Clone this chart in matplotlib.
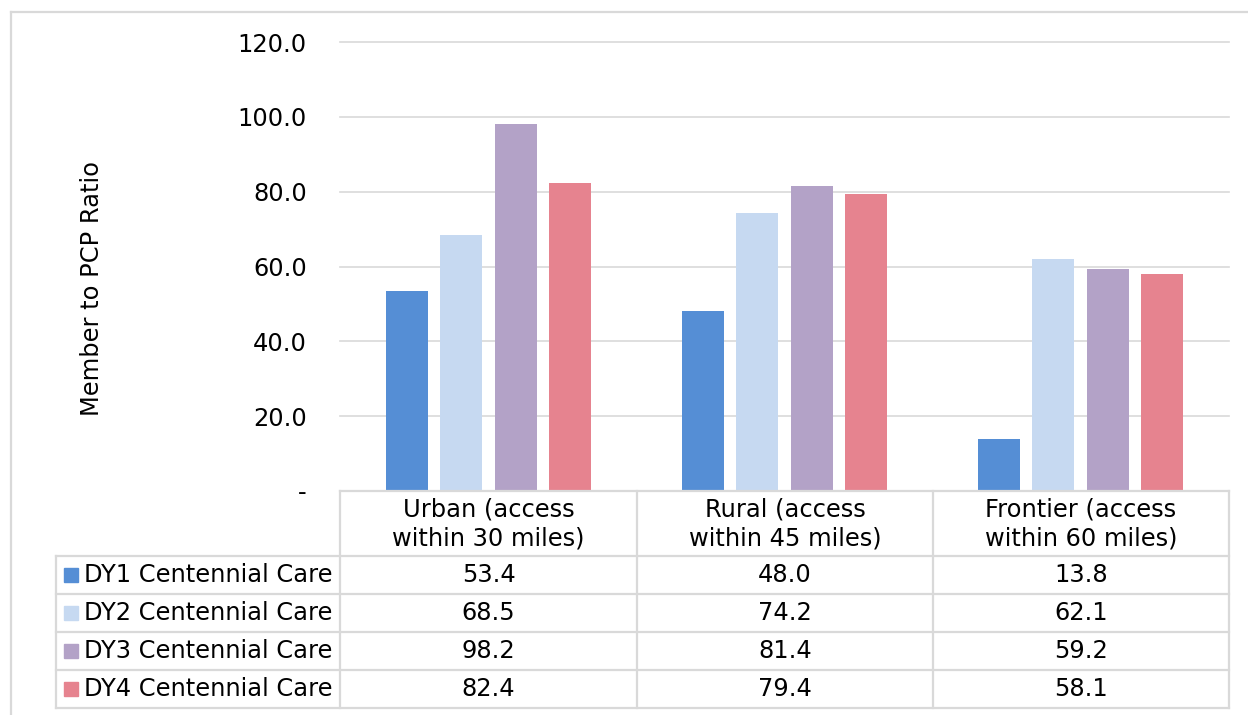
import matplotlib
matplotlib.use("Agg")
import matplotlib.pyplot as plt
from matplotlib.lines import Line2D
from matplotlib.patches import Rectangle

plt.rcParams['font.family'] = ['DejaVu Sans']

categories = ["Urban (access\nwithin 30 miles)",
              "Rural (access\nwithin 45 miles)",
              "Frontier (access\nwithin 60 miles)"]
series_names = ["DY1 Centennial Care", "DY2 Centennial Care",
                "DY3 Centennial Care", "DY4 Centennial Care"]
dy1 = [53.4, 48.0, 13.8]
dy2 = [68.5, 74.2, 62.1]
dy3 = [98.2, 81.4, 59.2]
dy4 = [82.4, 79.4, 58.1]
series_values = [dy1, dy2, dy3, dy4]
yticks = [0, 20, 40, 60, 80, 100, 120]
y_label = "Member to PCP Ratio"

colors = ["#558ED5", "#C6D9F1", "#B3A2C7", "#E6838F"]
grid_c = "#D9D9D9"
W, H = 1248, 715
FS = 17.4

fig = plt.figure(figsize=(W / 100, H / 100), dpi=100)
fig.patch.set_facecolor("white")

# plot area (pixel layout)
px0, px1, py_top, py_bot = 340, 1229, 42, 491
ax = fig.add_axes([px0 / W, 1 - py_bot / H, (px1 - px0) / W, (py_bot - py_top) / H])
ax.set_xlim(-0.5, len(categories) - 0.5)
ax.set_ylim(0, 120)
ax.set_yticks(yticks)
ax.set_yticklabels(["-" if v == 0 else f"{v:.1f}" for v in yticks], fontsize=FS)
ax.tick_params(axis="y", length=0, pad=24)
ax.set_xticks([])
for s in ax.spines.values():
    s.set_visible(False)
ax.yaxis.grid(True, color=grid_c, linewidth=1.2)
for gl in ax.get_ygridlines():
    gl.set_clip_on(False)
ax.set_axisbelow(True)

offsets = [-0.275, -0.0929, 0.0929, 0.275]
bw = 0.142
for i, vals in enumerate(series_values):
    xs = [c + offsets[i] for c in range(len(categories))]
    ax.bar(xs, vals, width=bw, color=colors[i], zorder=2)

# overlay axes in pixel coordinates for table & borders
ov = fig.add_axes([0, 0, 1, 1])
ov.set_xlim(0, W)
ov.set_ylim(H, 0)
ov.axis("off")
ov.patch.set_visible(False)

lw = 1.6
def hline(y, x0, x1):
    ov.add_line(Line2D([x0, x1], [y, y], color=grid_c, lw=lw))
def vline(x, y0, y1):
    ov.add_line(Line2D([x, x], [y0, y1], color=grid_c, lw=lw))

# outer chart border
hline(12, 11, W)
vline(11, 12, H)

col_edges = [340, 637, 933, 1229]
row_edges = [556, 594, 632, 670, 708]
hline(491, 340, 1229)
for y in row_edges:
    hline(y, 56, 1229)
vline(56, 556, 708)
for x in col_edges:
    vline(x, 491, 708)

# header
for j, cat in enumerate(categories):
    cx = (col_edges[j] + col_edges[j + 1]) / 2
    ov.text(cx, 524, cat, ha="center", va="center", fontsize=FS,
            linespacing=1.22)

# rows
for i, name in enumerate(series_names):
    cy = (row_edges[i] + row_edges[i + 1]) / 2
    ov.add_patch(Rectangle((64, cy - 7), 14, 14, color=colors[i]))
    ov.text(84, cy, name, ha="left", va="center", fontsize=FS)
    for j, v in enumerate(series_values[i]):
        cx = (col_edges[j] + col_edges[j + 1]) / 2
        ov.text(cx, cy, f"{v:.1f}", ha="center", va="center", fontsize=FS)

ov.text(92, 288, y_label, ha="center", va="center", rotation=90, fontsize=FS)

fig.savefig("out.png", dpi=100)
